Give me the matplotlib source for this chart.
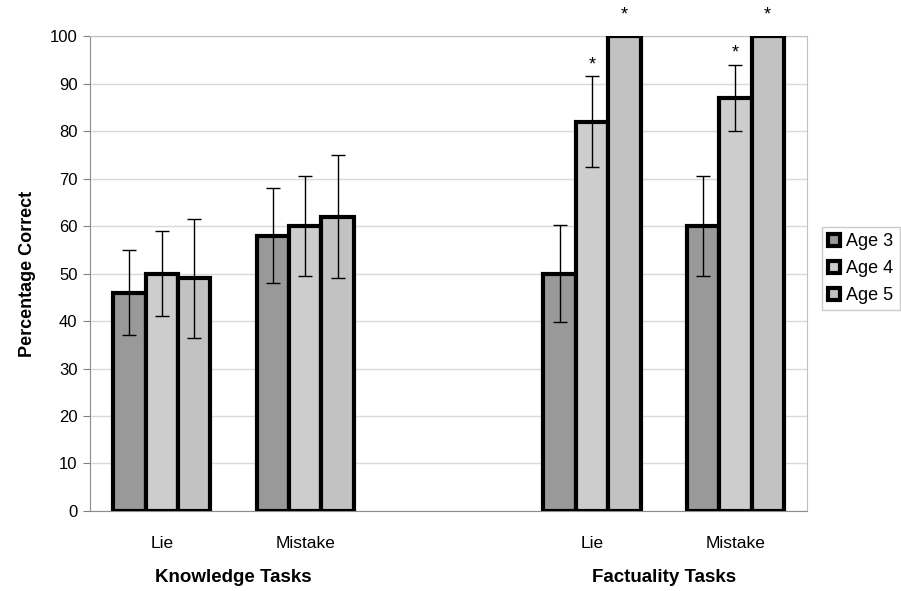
#!/usr/bin/env python3
import numpy as np
import matplotlib.pyplot as plt

plt.rcParams['font.family'] = ['Liberation Sans', 'DejaVu Sans']

# categories along the x axis (middle slot left empty as a gap between task groups)
categories = ['Lie', 'Mistake', '', 'Lie', 'Mistake']
groups = ['Knowledge Tasks', 'Factuality Tasks']
ages = ['Age 3', 'Age 4', 'Age 5']

# percentage correct per age, per category slot (nan = empty slot)
age3 = [46, 58, np.nan, 50, 60]
age4 = [50, 60, np.nan, 82, 87]
age5 = [49, 62, np.nan, 100, 100]

# error bar half-widths (nan = no error bar drawn)
age3_err = [9, 10, np.nan, 10.2, 10.5]
age4_err = [9, 10.5, np.nan, 9.5, 7]
age5_err = [12.5, 13, np.nan, np.nan, np.nan]

# significance markers per age series
age3_sig = [False, False, False, False, False]
age4_sig = [False, False, False, True, True]
age5_sig = [False, False, False, True, True]

values = [age3, age4, age5]
errors = [age3_err, age4_err, age5_err]
sigs = [age3_sig, age4_sig, age5_sig]
colors = ['#999999', '#cdcdcd', '#c2c2c2']

fig = plt.figure(figsize=(9.01, 5.91), dpi=100)
ax = fig.add_axes([0.0999, 0.1354, 0.7958, 0.8036])

x = np.arange(len(categories))
w = 0.226
for i, (vals, errs, sig) in enumerate(zip(values, errors, sigs)):
    pos = x + (i - 1) * w
    ax.bar(pos, vals, width=w, color=colors[i], edgecolor='black',
           linewidth=3, label=ages[i], zorder=3)
    ax.errorbar(pos, vals, yerr=errs, fmt='none', ecolor='black',
                elinewidth=1, capsize=5, capthick=1, zorder=4)
    for p, v, e, s in zip(pos, vals, errs, sig):
        if not s:
            continue
        # asterisk above the error bar, or above the bar when there is none
        y = v + e + 2.4 if not np.isnan(e) else v + 4.5
        ax.text(p, y, '*', ha='center', va='center', fontsize=13,
                clip_on=False)

ax.set_xlim(-0.5, len(categories) - 0.5)
ax.set_ylim(0, 100)
ax.set_yticks(np.arange(0, 101, 10))
ax.set_xticks(x)
ax.set_xticklabels(categories, fontsize=12.5)
ax.tick_params(axis='x', length=0, pad=18)
ax.tick_params(axis='y', labelsize=12, length=5, color='#808080', pad=4)
ax.set_ylabel('Percentage Correct', fontsize=13, fontweight='bold',
              labelpad=10)

ax.yaxis.grid(True, color='#d9d9d9', linewidth=1, zorder=0)
ax.set_axisbelow(True)
for side in ['left', 'bottom']:
    ax.spines[side].set_color('#8c8c8c')
for side in ['top', 'right']:
    ax.spines[side].set_color('#c0c0c0')

# group labels under each pair of categories
for gname, (a, b) in zip(groups, [(0, 1), (3, 4)]):
    ax.text((a + b) / 2, -0.14, gname, transform=ax.get_xaxis_transform(),
            ha='center', va='center', fontsize=13.5, fontweight='bold')

leg = fig.legend(loc='upper left', bbox_to_anchor=(0.912, 0.616),
                 fontsize=13, frameon=True, fancybox=False,
                 handlelength=0.65, handleheight=0.65, handletextpad=0.35,
                 borderpad=0.35, labelspacing=0.55, borderaxespad=0)
leg.get_frame().set_edgecolor('#bfbfbf')
leg.get_frame().set_linewidth(1)

fig.savefig('out.png', dpi=100)
